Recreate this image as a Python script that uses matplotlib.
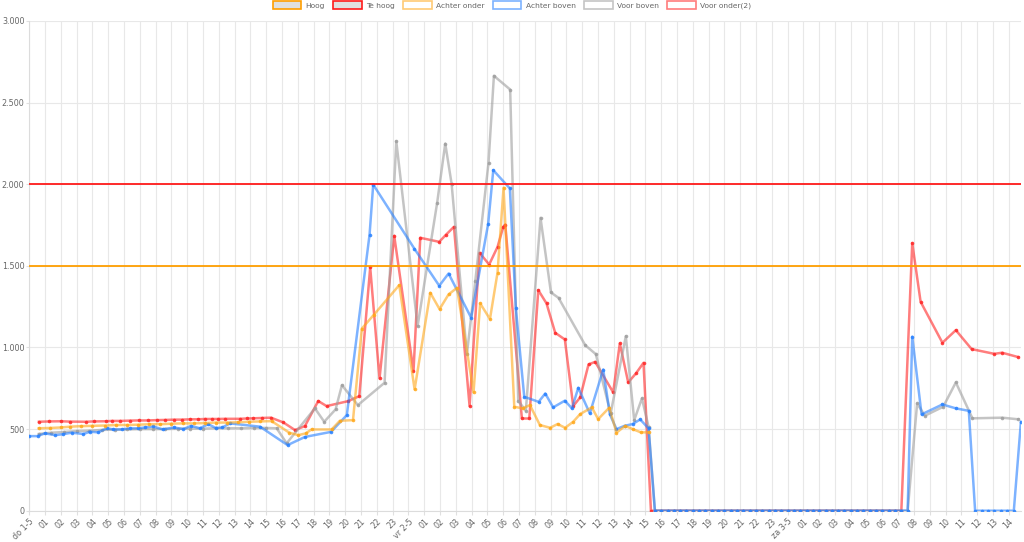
import matplotlib
matplotlib.use("Agg")
import matplotlib.pyplot as plt
from matplotlib.patches import Patch
from matplotlib.ticker import FuncFormatter

# grenswaarden
hoog_waarde = 1500
te_hoog_waarde = 2000

# tijd in uren vanaf do 1-5 00:00
nul_tijden = [39.6, 40.0, 40.4, 40.8, 41.2, 41.6, 42.0, 42.4, 42.8, 43.2, 43.6, 44.0, 44.4, 44.8,
              45.2, 45.6, 46.0, 46.4, 46.8, 47.2, 47.6, 48.0, 48.4, 48.8, 49.2, 49.6, 50.0, 50.4,
              50.8, 51.2, 51.6, 52.0, 52.4, 52.8, 53.2, 53.6, 54.0, 54.4, 54.8, 55.2, 55.6]

achter_onder_t = [0.6, 1.3, 2.0, 2.6, 3.3, 4.0, 4.8, 5.5, 6.2, 6.9, 7.6, 8.3, 9.0, 9.7, 10.4, 11.1,
                  11.8, 12.5, 13.2, 13.9, 14.6, 15.34, 16.46, 17.03, 17.5, 17.87, 19.14, 19.66, 20.49,
                  21.05, 21.79, 23.42, 24.39, 25.38, 25.97, 26.54, 27.07, 28.12, 28.54, 29.16, 29.64,
                  30.02, 30.7, 31.22, 31.69, 32.32, 32.97, 33.44, 33.92, 34.43, 34.87, 35.61, 36.01,
                  36.71, 37.17, 37.72, 38.19, 38.71, 39.2]
achter_onder_v = [505, 507, 510, 515, 518, 520, 522, 525, 525, 527, 530, 530, 533, 535, 535, 537,
                  540, 540, 542, 545, 547, 549, 478, 463, 474, 498, 498, 551, 555,
                  1116, 1198, 1382, 743, 1335, 1235, 1325, 1365, 725, 1270, 1174, 1459,
                  1978, 637, 627, 647, 525, 508, 531, 508, 545, 592, 633, 561,
                  631, 478, 520, 500, 480, 480]

achter_boven_t1 = [0, 0.53, 0.99, 1.63, 2.16, 2.68, 3.42, 3.84, 4.37, 4.9, 5.32, 5.85, 6.37, 6.9,
                   7.32, 7.85, 8.44, 9.16, 9.75, 10.24, 10.8, 11.33, 11.8, 12.22, 12.7, 14.6, 16.35,
                   17.45, 19.1, 20.1, 21.54, 21.77, 24.37, 25.95, 26.54, 27.97, 29.05, 29.37, 30.42,
                   30.8, 31.33, 32.24, 32.66, 33.16, 33.9, 34.35, 34.75, 35.48, 36.33, 36.75, 37.17,
                   37.68, 38.19, 38.67, 39.2]
achter_boven_v1 = [457, 457, 474, 463, 469, 478, 470, 484, 480, 505, 498, 498, 505, 505,
                   510, 516, 498, 510, 500, 520, 505, 530, 507, 510, 535, 515, 402,
                   452, 483, 586, 1692, 1998, 1606, 1378, 1453, 1182, 1759, 2086, 1974,
                   1239, 698, 667, 718, 633, 674, 627, 753, 596, 865, 590, 500,
                   520, 531, 559, 504]
achter_boven_t2 = [55.89, 56.48, 57.8, 58.65, 59.47, 59.87, 60.28, 60.66, 61.08, 61.5, 61.9, 62.32, 62.77]
achter_boven_v2 = [1066, 590, 651, 627, 612, 0, 0, 0, 0, 0, 0, 0, 545]

voor_boven_t1 = [0.6, 1.4, 2.2, 3.0, 3.8, 4.6, 5.4, 6.2, 7.0, 7.8, 8.6, 9.4, 10.2, 11.0, 11.8, 12.6,
                 13.4, 14.2, 15.0, 15.66, 16.29, 18.08, 18.67, 19.39, 19.79, 20.8, 22.49, 23.23,
                 24.58, 25.82, 26.33, 26.73, 27.7, 28.23, 29.07, 29.41, 30.44, 30.95, 31.43, 32.36,
                 33.02, 33.5, 35.19, 35.86, 36.8, 37.76, 38.29, 38.78, 39.2]
voor_boven_v1 = [470, 478, 482, 488, 490, 495, 497, 498, 500, 500, 500, 502, 503, 503, 505, 505,
                 505, 507, 507, 505, 413, 627, 545, 621, 769, 647, 784, 2263,
                 1131, 1888, 2249, 2004, 959, 1406, 2133, 2664, 2580, 674, 612, 1794,
                 1337, 1304, 1014, 959, 596, 1069, 555, 688, 514]
voor_boven_t2 = [56.2, 56.69, 57.85, 58.65, 59.7, 61.58, 62.6]
voor_boven_v2 = [657, 582, 637, 786, 566, 570, 560]

voor_onder_t1 = [0.61, 1.27, 1.99, 2.58, 3.57, 4.09, 4.85, 5.23, 5.74, 6.37, 6.92, 7.51, 8.06, 8.59,
                 9.16, 9.66, 10.17, 10.68, 11.12, 11.55, 11.94, 12.39, 13.34, 13.76, 14.16, 14.7,
                 15.3, 16.08, 16.82, 17.45, 18.29, 18.82, 20.17, 20.89, 21.58, 22.17, 23.1, 24.32,
                 24.75, 25.95, 26.35, 26.88, 27.87, 28.5, 29.11, 29.64, 30.0, 30.13, 31.18, 31.65,
                 32.22, 32.74, 33.29, 33.9, 34.43, 34.87, 35.4, 35.82, 36.96, 37.38, 37.91, 38.4,
                 38.88, 39.35]
voor_onder_v1 = [545, 547, 548, 546, 545, 547, 548, 550, 550, 552, 553, 553, 555, 556,
                 558, 558, 560, 560, 562, 562, 562, 563, 563, 565, 566, 568,
                 570, 541, 494, 519, 672, 641, 671, 702, 1490, 810, 1684, 855,
                 1672, 1647, 1688, 1739, 641, 1580, 1508, 1616, 1739, 1753, 565, 565,
                 1351, 1270, 1090, 1049, 641, 694, 896, 912, 725, 1025, 786, 841,
                 906, 0]
voor_onder_t2 = [55.89, 56.42, 57.8, 58.65, 59.65, 61.08, 61.58, 62.6]
voor_onder_v2 = [1639, 1280, 1029, 1106, 990, 961, 968, 941]

dag_labels = ["do 1-5", "vr 2-5", "za 3-5"]
laatste_uur = 14

# series samenvoegen met de nul-periode
ab_t = achter_boven_t1 + nul_tijden + achter_boven_t2
ab_v = achter_boven_v1 + [0] * len(nul_tijden) + achter_boven_v2
vb_t = voor_boven_t1 + nul_tijden + voor_boven_t2
vb_v = voor_boven_v1 + [0] * len(nul_tijden) + voor_boven_v2
vo_nul = nul_tijden[:-1]
vo_t = voor_onder_t1 + vo_nul + voor_onder_t2
vo_v = voor_onder_v1 + [0] * len(vo_nul) + voor_onder_v2

x_min, x_max = 0, 62.77

fig = plt.figure(figsize=(10.24, 5.42), dpi=100)
ax = fig.add_axes([0.0286, 0.0577, 0.9684, 0.9036])

kleur_hoog = (1.0, 0.62, 0.0)
kleur_te_hoog = (1.0, 0.1, 0.1)
series = [
    (achter_onder_t, achter_onder_v, (1.0, 0.66, 0.1), 8),
    (ab_t, ab_v, (0.15, 0.5, 1.0), 7),
    (vb_t, vb_v, (0.62, 0.62, 0.62), 6),
    (vo_t, vo_v, (1.0, 0.15, 0.15), 5),
]

ax.plot([x_min, x_max], [hoog_waarde, hoog_waarde], color=kleur_hoog, lw=1.3, zorder=10)
ax.plot([x_min, x_max], [te_hoog_waarde, te_hoog_waarde], color=kleur_te_hoog, lw=1.3, zorder=9)
for t, v, kleur, z in series:
    ax.plot(t, v, color=kleur + (0.6,), lw=1.8, marker='o', ms=2.6, mew=0,
            markerfacecolor=kleur + (0.85,), zorder=z)

ax.set_xlim(x_min, x_max)
ax.set_ylim(0, 3000)
ax.set_yticks(range(0, 3001, 500))
ax.yaxis.set_major_formatter(FuncFormatter(lambda v, p: f"{int(v):,}".replace(",", ".")))

# uurlabels
x_labels = []
for dag in dag_labels:
    x_labels.append(dag)
    x_labels += [f"{u:02d}" for u in range(1, 24)]
x_labels = x_labels[:48 + laatste_uur + 1]
ax.set_xticks(range(len(x_labels)))
ax.set_xticklabels(x_labels, rotation=45, ha='right', rotation_mode='anchor')

ax.grid(True, color='#e8e8e8', lw=0.8, zorder=0)
ax.set_axisbelow(True)
for s in ['top', 'right']:
    ax.spines[s].set_visible(False)
for s in ['left', 'bottom']:
    ax.spines[s].set_color('#dcdcdc')
ax.tick_params(axis='both', colors='#e0e0e0', labelcolor='#666666', labelsize=5.8, length=3)
ax.tick_params(axis='y', pad=1.5, length=2)
ax.tick_params(axis='x', pad=1.5)

handles = [
    Patch(facecolor='#e0e0e0', edgecolor=kleur_hoog, lw=1.2, label='Hoog'),
    Patch(facecolor='#e0e0e0', edgecolor=kleur_te_hoog, lw=1.2, label='Te hoog'),
]
for naam, (_, _, kleur, _) in zip(['Achter onder', 'Achter boven', 'Voor boven', 'Voor onder(2)'], series):
    handles.append(Patch(facecolor='white', edgecolor=kleur + (0.6,), lw=1.2, label=naam))
leg = fig.legend(handles=handles, loc='upper center', bbox_to_anchor=(0.5, 1.01), ncol=6,
                 frameon=False, fontsize=5.4, handlelength=3.8, handleheight=1.2,
                 columnspacing=1.1, handletextpad=0.6)
for t in leg.get_texts():
    t.set_color('#666666')

fig.savefig('out.png', dpi=100)
